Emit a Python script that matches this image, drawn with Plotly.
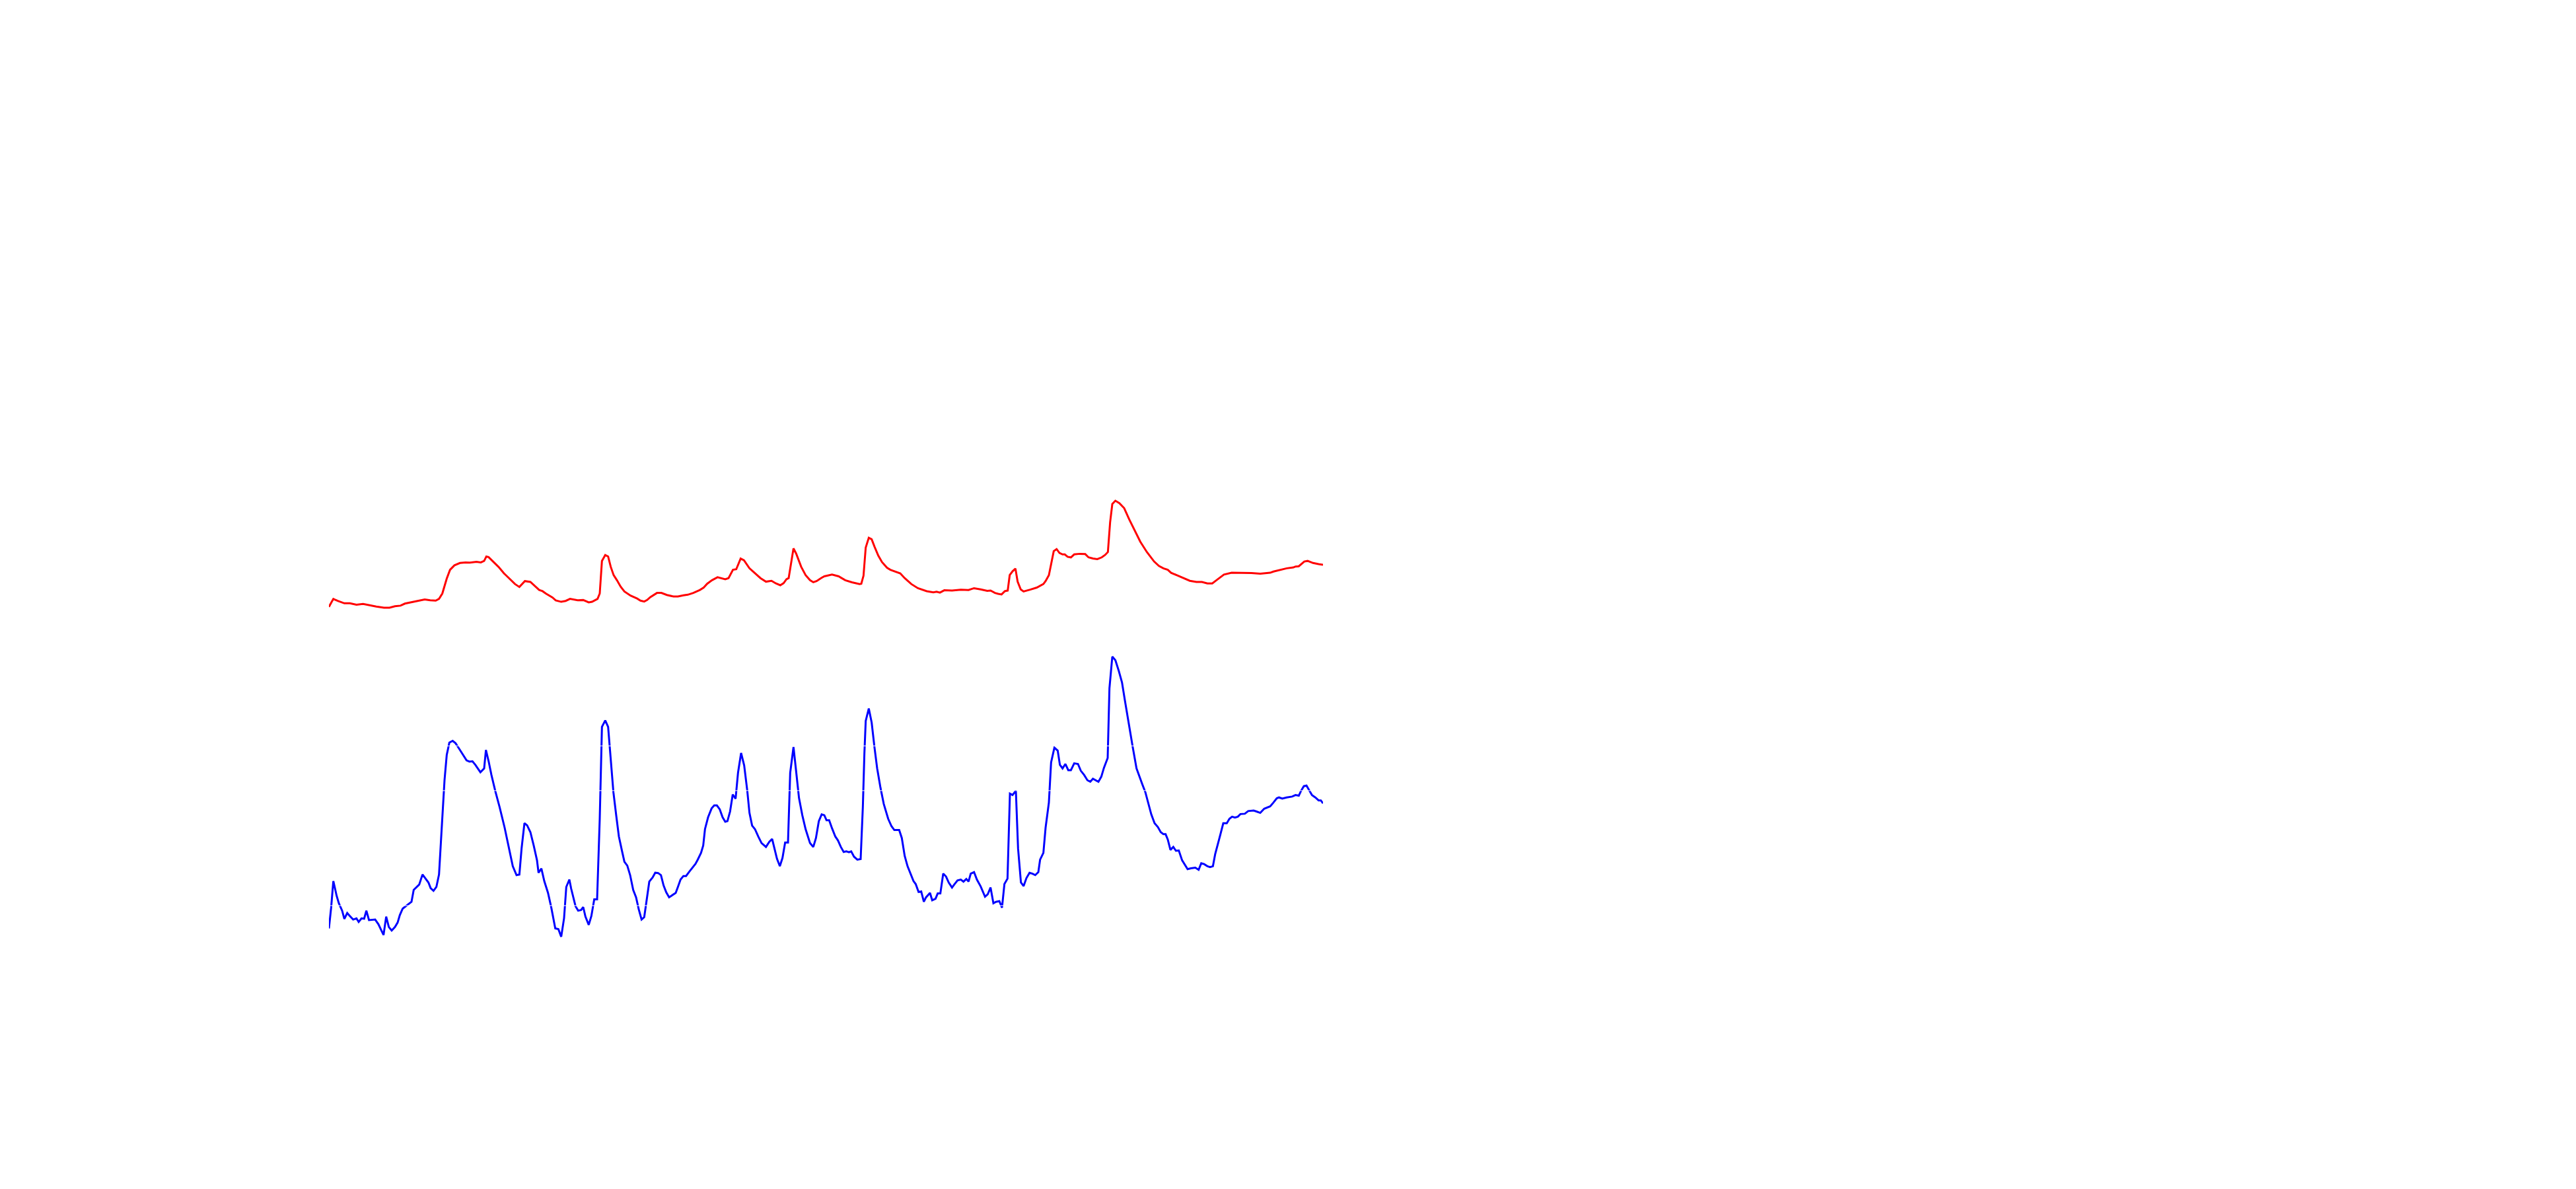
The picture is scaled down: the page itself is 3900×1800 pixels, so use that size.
import plotly.graph_objects as go

# ---- data ----
red_x = [3.0, 5.0, 7.0, 10.0, 12.5, 15.5, 18.5, 21.5, 24.5, 28.0, 30.5, 33.0, 35.5, 37.5, 40.0, 43.0, 46.5, 49.0, 51.5, 53.0,
         54.5, 56.5, 58.0, 60.0, 62.5, 65.0, 67.0, 70.0, 72.0, 73.5, 74.5, 75.5, 77.5, 80.0, 82.5, 85.0, 87.5, 89.5, 92.0, 94.5,
         96.5, 98.5, 100.0, 101.5, 104.5, 106.0, 108.5, 110.5, 112.5,
         116.0, 118.5, 121.0, 122.5, 124.0, 125.0, 126.0, 127.0, 128.5, 129.8, 131.0, 132.3, 133.8, 135.5, 137.2, 140.0, 143.0,
         144.5, 146.2, 147.5, 149.0, 152.0, 154.0, 156.5, 159.5, 161.5, 164.0, 166.0, 168.5, 171.5, 173.2, 174.8, 177.0, 179.5,
         183.0, 184.5, 186.5, 188.0, 190.0, 191.5, 194.0, 196.5, 199.0, 201.5, 204.0, 206.0, 208.0, 209.5, 210.8, 211.8, 214.0,
         215.2, 217.5, 219.5, 221.5, 223.0, 224.5, 226.5,
         228.0, 231.5, 234.5, 237.5, 240.5, 244.0, 244.8, 245.8, 246.8, 248.2, 249.5, 250.8, 252.5, 254.2, 256.5, 258.0, 260.0,
         262.5, 264.5, 267.5, 270.5, 274.5, 277.5, 279.0, 280.5, 282.5, 286.0, 290.0, 293.5, 296.0, 299.0, 302.0, 303.5, 305.5,
         307.0, 308.5, 310.0, 311.3, 312.2, 313.5, 314.8, 315.8, 317.2, 318.5, 321.5, 324.5, 327.5, 328.5, 330.0, 331.0, 332.2,
         333.5, 334.8, 336.2, 337.2, 338.5, 340.0, 341.5,
         344.0, 346.5, 348.0, 350.0, 352.0, 354.0, 355.5, 356.8, 357.8, 358.8, 360.2, 362.0, 364.2, 366.5, 369.0, 371.5, 374.5,
         377.8, 380.0, 382.0, 384.0, 385.5, 388.0, 391.0, 394.0, 397.0, 399.5, 402.0, 404.2, 406.5, 409.5, 413.0, 416.0, 419.5,
         422.0, 426.0, 430.5, 432.0, 435.0, 438.0, 441.0, 442.0, 443.5, 446.0, 447.5, 450.0, 452.5, 454.5]
red_y = [113.5, 116.2, 115.5, 114.7, 114.7, 114.2, 114.5, 114.0, 113.6, 113.2, 113.2, 113.7, 113.9, 114.6, 115.0, 115.5, 116.0,
         115.7, 115.6, 116.2,
         118.0, 123.0, 126.0, 127.5, 128.3, 128.5, 128.4, 128.7, 128.5, 129.0, 130.5, 130.3, 128.8, 127.0, 124.8, 123.0, 121.2,
         120.2, 122.2, 121.9,
         120.5, 119.2, 118.8, 118.0, 116.7, 115.7, 115.2, 115.5, 116.2,
         115.7, 115.8, 115.0, 115.2, 115.8, 116.2, 118.0, 129.0, 131.0, 130.5, 127.0, 124.2, 122.5, 120.3, 118.7, 117.3, 116.3,
         115.6, 115.3, 115.8, 116.8, 118.2, 118.2, 117.5, 117.0, 117.0, 117.4, 117.6, 118.2, 119.2, 120.0, 121.3, 122.5, 123.5,
         122.8, 123.2, 126.0, 126.2, 129.8, 129.2, 126.5, 124.8, 123.2, 122.0, 122.3, 121.4, 120.8, 121.5, 122.8, 123.2, 133.2,
         131.5, 127.0, 124.2, 122.5, 121.8, 122.2, 123.2,
         123.8, 124.4, 123.8, 122.5, 121.8, 121.2, 121.3, 124.0, 133.5, 136.8, 136.3, 133.8, 130.8, 128.6, 126.7, 126.0, 125.5,
         124.8, 123.2, 121.2, 119.8, 118.8, 118.4, 118.6, 118.3, 119.1, 119.0, 119.3, 119.2, 119.8, 119.4, 118.9, 119.0, 118.2,
         117.9, 117.7, 118.8, 119.0, 124.2, 125.5, 126.4, 122.0, 119.4, 118.7, 119.3, 120.0, 121.2, 122.2, 124.2, 128.0, 132.3,
         133.0, 131.7, 131.2, 131.2, 130.4, 130.2, 131.2,
         131.4, 131.3, 130.2, 129.8, 129.6, 130.2, 131.0, 132.0, 142.0, 148.2, 149.3, 148.5, 146.8, 143.0, 139.2, 135.5, 132.0,
         128.8, 127.3, 126.5, 126.0, 125.0, 124.2, 123.2, 122.3, 121.9, 121.9, 121.4, 121.4, 122.7, 124.4, 125.0, 125.0, 124.9,
         124.9, 124.7, 125.0, 125.4, 126.0, 126.5, 126.8, 127.1, 127.2, 128.8, 129.0, 128.3, 127.9, 127.7]

blue_x = [3.0, 4.0, 5.0, 6.5, 7.5, 9.0, 10.0, 11.3, 12.5, 14.0, 15.5, 16.5, 17.8, 19.0, 20.0, 21.2, 24.0, 25.5, 26.5, 27.8,
          29.0, 30.2, 31.5, 33.0, 34.2, 35.2, 36.5, 38.0, 39.5, 40.5, 41.5, 42.5, 44.0, 45.5, 47.0, 48.2, 49.2, 50.5, 51.8, 53.0,
          54.0, 54.8, 55.5, 56.5, 57.7, 59.2, 60.5, 62.0, 64.0, 65.5, 66.8, 68.2, 69.5, 71.8, 73.5, 74.3, 75.5, 76.8, 78.5, 80.5,
          82.8, 85.0, 86.5, 88.2, 89.5, 90.5, 91.8, 93.0, 94.5, 96.0, 97.5, 98.2, 99.5, 100.8, 102.5, 104.0, 105.0, 105.8, 107.2,
          108.5, 109.8, 110.8, 112.2, 113.0,
          115.0, 116.2, 117.5, 118.5, 119.5, 121.0, 122.2, 123.5, 124.8, 126.0, 127.0, 128.5, 129.8, 131.0, 132.2, 133.5, 134.7,
          136.0, 137.2, 138.5, 139.8, 141.2, 142.5, 143.7, 145.0, 146.2, 147.3, 148.5, 150.0, 151.2, 152.5, 153.8, 155.0, 156.2,
          157.5, 159.0, 160.5, 161.5, 162.7, 164.0, 165.2, 166.5, 168.0, 169.5, 170.5, 172.0, 173.0, 173.8, 175.2, 176.8, 178.0,
          179.2, 180.5, 181.8, 183.0, 184.0, 185.2, 186.4, 187.7, 188.8, 190.2, 191.6, 193.0, 194.0, 195.2, 196.5, 198.0, 199.5,
          201.5, 203.0, 204.3, 205.5, 206.5, 207.8, 209.0, 210.2, 211.5, 212.5, 214.0, 215.2, 216.5, 218.0, 219.5, 221.5, 223.0,
          224.2, 225.5, 226.8,
          228.0, 229.0, 230.2, 231.5, 233.0, 234.2, 235.5, 236.8, 238.0, 239.2, 240.2, 241.5, 243.0, 244.5, 245.5, 246.2, 246.8,
          248.2, 249.5, 250.8, 252.0, 253.5, 255.0, 257.0, 258.5, 259.8, 262.0, 263.2, 264.5, 265.8, 267.2, 268.5, 269.5, 270.8,
          272.0, 273.2, 274.2, 276.0, 277.0, 278.5, 279.5, 280.7, 282.0, 283.3, 284.5, 286.0, 287.0, 288.5, 290.0, 291.2, 292.5,
          293.5, 294.5, 296.0, 297.3, 299.0, 301.0, 302.2, 303.5, 304.8, 306.0, 307.5, 308.7, 309.8, 311.2, 312.3, 313.5, 315.0,
          316.0, 317.3, 318.5, 319.8, 321.2, 322.5, 323.8, 325.2, 326.0, 327.5, 328.5, 330.0, 331.0, 332.5, 334.0, 335.0, 336.2,
          337.5, 338.8, 340.0, 341.5,
          343.2, 344.5, 346.0, 347.5, 348.8, 350.0, 351.3, 352.5, 353.8, 355.0, 356.7, 357.5, 358.8, 360.2, 361.7, 363.2, 364.5,
          366.2, 368.0, 369.8, 371.2, 372.5, 373.8, 375.0, 376.5, 378.0, 379.5, 380.8, 382.0, 383.0, 384.0, 385.2, 386.5, 387.7,
          389.0, 390.5, 391.8, 393.0, 394.5, 396.5, 398.0, 399.2, 400.5, 402.0, 403.2, 404.5, 405.5, 407.0, 408.0, 409.2, 410.8,
          412.0, 413.2, 414.5, 415.8, 417.0, 419.0, 420.5, 423.0, 424.5, 426.0, 427.8, 429.0, 430.5, 432.0, 433.5, 434.5, 436.0,
          438.0, 440.5, 442.0, 443.5, 444.5, 445.8, 447.0, 448.0, 449.5, 451.0, 452.5, 453.5, 454.5]
blue_y = [5.0, 12.0, 21.0, 16.0, 13.5, 11.0, 8.2, 10.2, 9.2, 8.0, 8.4, 7.2, 8.4, 8.3, 11.0, 7.8, 8.0, 6.4, 4.8, 2.8,
          9.0, 5.5, 4.3, 5.5, 7.0, 9.5, 11.7, 12.5, 13.5, 14.0, 18.0, 18.8, 19.8, 23.2, 21.8, 20.5, 18.6, 17.7, 19.0, 23.2,
          36.0, 46.0, 55.0, 63.5, 67.7, 68.3, 67.5, 65.8, 63.5, 61.7, 61.3, 61.4, 60.2, 57.7, 59.0, 65.2, 61.5, 56.8, 51.5, 46.0,
          39.0, 31.2, 26.0, 23.0, 23.2, 32.0, 40.5, 39.8, 37.5, 33.0, 28.0, 23.8, 25.2, 21.0, 17.0, 12.0, 8.0, 5.0, 4.8,
          2.2, 8.5, 19.0, 21.5, 18.5,
          12.5, 11.0, 11.2, 12.2, 9.0, 6.2, 9.2, 14.8, 14.8, 42.0, 73.0, 75.2, 73.0, 61.0, 51.0, 43.0, 36.0,
          31.5, 27.5, 26.2, 23.0, 18.0, 15.5, 11.5, 8.0, 8.8, 15.0, 20.8, 22.2, 23.8, 23.7, 23.0, 19.5, 17.2,
          15.5, 16.2, 17.0, 19.0, 21.5, 22.7, 22.7, 24.0, 25.5, 26.8, 28.2, 30.5, 33.0, 38.5, 42.5, 45.5, 46.5,
          46.5, 45.2, 42.5, 41.0, 41.2, 44.5, 50.2, 48.8, 57.5, 64.2, 60.0, 51.5, 44.0, 39.7, 38.5, 36.0, 33.8,
          32.5, 34.2, 35.2, 31.5, 28.5, 26.0, 28.8, 34.0, 34.0, 57.5, 66.2, 58.0, 49.0, 43.2, 38.5, 33.8, 32.5,
          35.5, 41.2, 43.5,
          43.2, 41.5, 41.5, 38.8, 36.0, 34.7, 32.5, 30.8, 31.0, 30.7, 31.0, 29.2, 28.2, 28.4, 46.0, 64.0, 75.0,
          79.2, 74.5, 66.0, 59.0, 52.5, 47.0, 42.0, 39.5, 38.2, 38.2, 35.5, 29.5, 26.0, 23.5, 21.0, 20.0, 17.3,
          17.5, 14.0, 15.5, 17.0, 14.5, 15.0, 16.8, 16.8, 23.5, 22.5, 20.5, 18.8, 19.8, 21.2, 21.5, 20.8, 21.7,
          20.8, 23.5, 24.0, 21.5, 19.2, 15.7, 16.5, 18.8, 13.5, 14.0, 14.2, 12.0, 20.0, 21.8, 50.5, 50.0, 51.5,
          32.0, 20.5, 19.3, 22.0, 23.8, 23.5, 23.0, 24.0, 28.2, 30.5, 39.0, 47.5, 61.0, 66.0, 65.0, 60.2, 59.0,
          60.5, 58.4, 58.4, 60.7,
          60.5, 58.2, 56.8, 55.0, 54.5, 55.5, 55.0, 54.5, 56.2, 59.2, 62.5, 86.0, 96.7, 95.5, 92.0, 88.0, 82.0,
          74.0, 66.5, 59.0, 56.0, 53.5, 51.0, 47.5, 43.5, 40.5, 39.2, 37.5, 36.8, 36.8, 35.0, 31.5, 32.5, 31.2,
          31.3, 28.0, 26.5, 25.0, 25.3, 25.5, 24.8, 27.0, 26.7, 26.0, 25.7, 26.0, 30.0, 34.0, 37.0, 40.5, 40.5,
          42.0, 42.7, 42.4, 42.7, 43.6, 43.7, 44.6, 44.8, 44.4, 44.0, 45.4, 45.8, 46.2, 47.5, 48.9, 49.2, 48.8,
          49.2, 49.5, 50.0, 49.8, 51.4, 53.0, 53.2, 52.0, 50.0, 49.2, 48.2, 48.2, 47.2]

# faint white rule lines that notch the blue trace in the reference
rule_levels = [12.7, 51.5, 66.6]

x_range = [3.0, 454.5]
y_range = [0, 156]

fig = go.Figure()
fig.add_trace(go.Scatter(x=red_x, y=red_y, mode="lines", line=dict(color="#FF0000", width=3),
                         showlegend=False, hoverinfo="skip"))
fig.add_trace(go.Scatter(x=blue_x, y=blue_y, mode="lines", line=dict(color="#0000FF", width=3),
                         showlegend=False, hoverinfo="skip"))

for lv in rule_levels:
    fig.add_shape(type="line", xref="paper", x0=0, x1=1, yref="y", y0=lv, y1=lv,
                  line=dict(color="white", width=1), layer="above")

fig.update_layout(
    width=3900, height=1800,
    paper_bgcolor="white", plot_bgcolor="white",
    margin=dict(l=490, r=1905, t=720, b=380, pad=0),
    xaxis=dict(visible=False, range=x_range, showgrid=False, zeroline=False),
    yaxis=dict(visible=False, range=y_range, showgrid=False, zeroline=False),
    showlegend=False,
)

fig.write_html("out.html")
